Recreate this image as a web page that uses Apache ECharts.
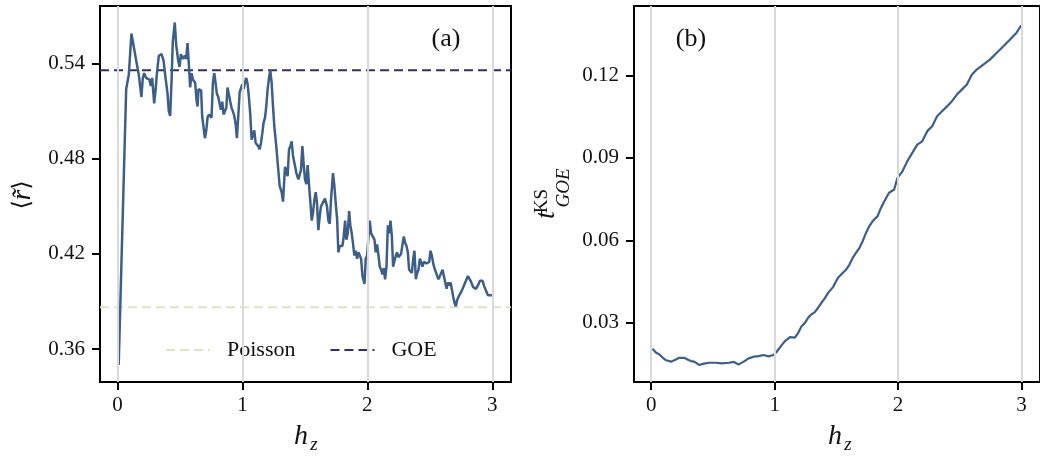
<!DOCTYPE html>
<html>
<head>
<meta charset="utf-8">
<script src="https://cdn.jsdelivr.net/npm/echarts@6/dist/echarts.min.js"></script>
<style>
html,body{margin:0;padding:0;background:#fff;overflow:hidden;}
#chart{width:1040px;height:457px;}
</style>
</head>
<body>
<div id="chart"></div>
<script>
// ---------- data ----------
const hzA = [0.010,0.070,0.091,0.112,0.128,0.150,0.171,0.192,0.203,0.214,0.230,0.246,0.256,0.267,0.278,0.294,0.305,0.315,0.331,0.353,0.369,0.385,0.401,0.411,0.422,0.433,0.443,0.459,0.470,0.486,0.497,0.508,0.524,0.540,0.550,0.561,0.572,0.582,0.593,0.604,0.622,0.633,0.641,0.649,0.670,0.678,0.689,0.700,0.711,0.721,0.732,0.743,0.753,0.764,0.775,0.785,0.796,0.807,0.817,0.828,0.839,0.849,0.860,0.871,0.881,0.892,0.903,0.914,0.924,0.935,0.946,0.956,0.967,0.978,0.988,0.999,1.010,1.020,1.031,1.042,1.052,1.063,1.074,1.084,1.095,1.106,1.117,1.127,1.138,1.149,1.159,1.170,1.181,1.191,1.202,1.213,1.223,1.234,1.245,1.255,1.271,1.287,1.298,1.314,1.325,1.341,1.352,1.362,1.373,1.384,1.394,1.405,1.421,1.432,1.448,1.458,1.469,1.480,1.490,1.501,1.512,1.522,1.533,1.544,1.555,1.565,1.576,1.587,1.597,1.608,1.619,1.629,1.645,1.661,1.677,1.688,1.699,1.709,1.725,1.736,1.747,1.758,1.768,1.779,1.790,1.800,1.811,1.822,1.832,1.843,1.854,1.864,1.875,1.886,1.896,1.907,1.918,1.928,1.939,1.950,1.961,1.977,1.987,1.998,2.009,2.019,2.030,2.041,2.057,2.067,2.078,2.089,2.099,2.110,2.121,2.131,2.142,2.153,2.164,2.174,2.185,2.196,2.206,2.217,2.228,2.238,2.249,2.260,2.270,2.281,2.292,2.302,2.313,2.324,2.334,2.345,2.356,2.367,2.377,2.388,2.399,2.409,2.420,2.431,2.441,2.452,2.463,2.473,2.484,2.495,2.505,2.516,2.527,2.537,2.548,2.559,2.569,2.580,2.591,2.602,2.612,2.623,2.634,2.644,2.655,2.666,2.676,2.687,2.698,2.708,2.719,2.730,2.740,2.751,2.762,2.772,2.783,2.794,2.805,2.815,2.826,2.837,2.847,2.858,2.869,2.879,2.890,2.901,2.911,2.922,2.933,2.943,2.954,2.965,2.975,2.986,2.997];
const rMean = [0.350,0.524,0.533,0.559,0.552,0.542,0.533,0.519,0.531,0.534,0.531,0.532,0.530,0.526,0.531,0.515,0.523,0.533,0.545,0.546,0.542,0.531,0.521,0.510,0.507,0.529,0.554,0.566,0.552,0.542,0.538,0.546,0.543,0.545,0.543,0.553,0.539,0.525,0.534,0.530,0.528,0.517,0.513,0.524,0.523,0.507,0.500,0.493,0.498,0.506,0.508,0.507,0.506,0.528,0.534,0.528,0.521,0.519,0.515,0.511,0.516,0.508,0.510,0.512,0.525,0.524,0.516,0.512,0.510,0.507,0.502,0.493,0.507,0.522,0.523,0.527,0.524,0.528,0.531,0.527,0.519,0.508,0.492,0.491,0.498,0.490,0.489,0.488,0.486,0.490,0.496,0.503,0.506,0.513,0.524,0.531,0.536,0.528,0.513,0.501,0.488,0.488,0.463,0.459,0.453,0.475,0.476,0.469,0.486,0.488,0.491,0.482,0.483,0.471,0.467,0.466,0.473,0.488,0.477,0.467,0.464,0.476,0.464,0.463,0.441,0.446,0.454,0.459,0.452,0.435,0.444,0.450,0.451,0.455,0.450,0.441,0.439,0.454,0.471,0.463,0.452,0.442,0.421,0.425,0.426,0.425,0.431,0.441,0.429,0.433,0.447,0.438,0.433,0.426,0.419,0.422,0.417,0.421,0.422,0.417,0.406,0.401,0.417,0.419,0.431,0.441,0.433,0.432,0.429,0.421,0.426,0.419,0.412,0.410,0.407,0.411,0.404,0.412,0.438,0.433,0.441,0.431,0.412,0.413,0.419,0.421,0.418,0.418,0.420,0.426,0.431,0.427,0.425,0.421,0.410,0.411,0.408,0.417,0.422,0.404,0.408,0.410,0.417,0.418,0.412,0.415,0.414,0.414,0.415,0.415,0.422,0.419,0.414,0.411,0.411,0.406,0.404,0.404,0.408,0.410,0.410,0.402,0.398,0.402,0.400,0.402,0.401,0.393,0.389,0.387,0.391,0.393,0.392,0.396,0.398,0.399,0.402,0.404,0.406,0.405,0.403,0.401,0.399,0.398,0.398,0.399,0.401,0.403,0.404,0.403,0.400,0.398,0.396,0.394,0.394,0.394,0.394];

const hzB = [0.010,0.040,0.067,0.094,0.121,0.160,0.200,0.227,0.267,0.294,0.321,0.348,0.388,0.428,0.468,0.522,0.575,0.629,0.669,0.709,0.749,0.789,0.830,0.870,0.910,0.950,0.990,1.017,1.057,1.084,1.124,1.164,1.191,1.218,1.245,1.272,1.298,1.325,1.352,1.379,1.406,1.433,1.473,1.513,1.553,1.580,1.606,1.633,1.660,1.687,1.713,1.740,1.767,1.794,1.834,1.861,1.888,1.927,1.968,1.995,2.035,2.075,2.115,2.155,2.195,2.236,2.276,2.316,2.356,2.396,2.436,2.476,2.516,2.556,2.597,2.637,2.690,2.744,2.797,2.851,2.905,2.958,2.998];
const tKS = [0.0206,0.0191,0.0185,0.0173,0.0164,0.0159,0.0167,0.0173,0.0173,0.0167,0.0161,0.0159,0.0147,0.0152,0.0155,0.0155,0.0153,0.0155,0.0158,0.0149,0.0159,0.0171,0.0177,0.0179,0.0183,0.0178,0.0183,0.0195,0.0219,0.0234,0.0248,0.0246,0.0264,0.0288,0.0300,0.0319,0.0331,0.0339,0.0355,0.0373,0.0389,0.0409,0.0430,0.0464,0.0482,0.0494,0.0512,0.0537,0.0555,0.0573,0.0597,0.0627,0.0652,0.0670,0.0688,0.0718,0.0742,0.0773,0.0785,0.0827,0.0851,0.0888,0.0918,0.0948,0.0960,0.0997,0.1015,0.1051,0.1069,0.1087,0.1106,0.1130,0.1148,0.1166,0.1202,0.1221,0.1239,0.1257,0.1281,0.1305,0.1329,0.1354,0.1382];

const poissonLevel = 0.3863;
const goeLevel = 0.5359;

const xTicks = [0, 1, 2, 3];
const yTicksA = [0.36, 0.42, 0.48, 0.54];
const yTicksB = [0.03, 0.06, 0.09, 0.12];
const xRange = [-0.1395, 3.1495];
const yRangeA = [0.3392, 0.5764];
const yRangeB = [0.0085, 0.1452];

// ---------- styling ----------
const FONT = '"Liberation Serif", "DejaVu Serif", serif';
const LINE = '#3d5e86';
const POIS = '#dfe2c6';
const GOEC = '#33305e';

function xAxisCfg(gi) {
  return {
    type: 'value', gridIndex: gi, min: xRange[0], max: xRange[1],
    axisLine: { show: true, onZero: false, lineStyle: { color: '#000', width: 2 } },
    axisTick: { show: true, length: 8, customValues: xTicks, lineStyle: { color: '#000', width: 2 } },
    axisLabel: { customValues: xTicks, margin: 13, fontFamily: FONT, fontSize: 21, color: '#111',
                 formatter: v => String(Math.round(v)) },
    splitLine: { show: false }
  };
}
function yAxisCfg(gi, rng, ticks) {
  return {
    type: 'value', gridIndex: gi, min: rng[0], max: rng[1],
    axisLine: { show: true, onZero: false, lineStyle: { color: '#000', width: 2 } },
    axisTick: { show: true, length: 8, customValues: ticks, lineStyle: { color: '#000', width: 2 } },
    axisLabel: { customValues: ticks, margin: 15, fontFamily: FONT, fontSize: 21, color: '#111',
                 formatter: v => v.toFixed(2) },
    splitLine: { show: false }
  };
}
function gridLines(gi) {
  return {
    type: 'line', name: 'grid' + gi, xAxisIndex: gi, yAxisIndex: gi, data: [], z: 1, silent: true,
    markLine: {
      silent: true, symbol: ['none', 'none'], animation: false,
      label: { show: false },
      lineStyle: { color: '#d9d9d9', width: 2, type: 'solid' },
      data: xTicks.map(v => ({ xAxis: v }))
    }
  };
}
const txt = (x, y, text, size, extra) => ({
  type: 'text', x, y, ...(extra && extra.rotation ? { rotation: extra.rotation } : {}),
  style: Object.assign({ text, fontFamily: FONT, fontSize: size, fill: '#111',
    align: 'center', verticalAlign: 'middle', textAlign: 'center', textVerticalAlign: 'middle' },
    extra && extra.style ? extra.style : {})
});

const option = {
  backgroundColor: '#fff',
  animation: false,
  grid: [
    { left: 100, top: 6, width: 411, height: 376, show: true, borderColor: '#000', borderWidth: 2, backgroundColor: 'transparent' },
    { left: 634, top: 6, width: 410, height: 376, show: true, borderColor: '#000', borderWidth: 2, backgroundColor: 'transparent' }
  ],
  xAxis: [xAxisCfg(0), xAxisCfg(1)],
  yAxis: [yAxisCfg(0, yRangeA, yTicksA), yAxisCfg(1, yRangeB, yTicksB)],
  legend: {
    data: ['Poisson', 'GOE'], left: 160, top: 334, itemWidth: 44, itemHeight: 14, itemGap: 34,
    itemStyle: { opacity: 0, borderWidth: 0 },
    textStyle: { fontFamily: FONT, fontSize: 22, color: '#111', padding: [0, 0, 0, 12] }
  },
  series: [
    gridLines(0), gridLines(1),
    { type: 'line', name: 'Poisson', xAxisIndex: 0, yAxisIndex: 0, z: 2, symbol: 'none', showSymbol: false,
      data: [[xRange[0], poissonLevel], [xRange[1], poissonLevel]],
      lineStyle: { color: POIS, width: 2, type: [9, 5] }, itemStyle: { color: POIS } },
    { type: 'line', name: 'GOE', xAxisIndex: 0, yAxisIndex: 0, z: 2, symbol: 'none', showSymbol: false,
      data: [[xRange[0], goeLevel], [xRange[1], goeLevel]],
      lineStyle: { color: GOEC, width: 2, type: [9, 5] }, itemStyle: { color: GOEC } },
    { type: 'line', name: 'rmean', xAxisIndex: 0, yAxisIndex: 0, z: 3, symbol: 'none', showSymbol: false,
      data: hzA.map((x, i) => [x, rMean[i]]),
      lineStyle: { color: LINE, width: 2.5 }, itemStyle: { color: LINE } },
    { type: 'line', name: 'tks', xAxisIndex: 1, yAxisIndex: 1, z: 3, symbol: 'none', showSymbol: false,
      data: hzB.map((x, i) => [x, tKS[i]]),
      lineStyle: { color: LINE, width: 2.2 }, itemStyle: { color: LINE } }
  ],
  graphic: [
    txt(446, 39, '(a)', 26),
    txt(691, 39, '(b)', 26),
    // x axis names
    txt(301, 437, 'h', 28, { style: { fontStyle: 'italic' } }),
    txt(314, 445, 'z', 19, { style: { fontStyle: 'italic' } }),
    txt(835, 437, 'h', 28, { style: { fontStyle: 'italic' } }),
    txt(848, 445, 'z', 19, { style: { fontStyle: 'italic' } }),
    // y axis name (a)
    txt(23, 195, '{a|⟨}{b|r\u0303}{a|⟩}', 26, { rotation: Math.PI / 2, style: {
      rich: { a: { fontFamily: '"DejaVu Serif", serif', fontSize: 24, fill: '#111' },
              b: { fontFamily: FONT, fontStyle: 'italic', fontSize: 27, fill: '#111' } } } }),
    // y axis name (b)
    txt(547, 215, 't', 28, { rotation: Math.PI / 2, style: { fontStyle: 'italic' } }),
    txt(542, 201, 'KS', 19, { rotation: Math.PI / 2 }),
    txt(564, 188, 'GOE', 19, { rotation: Math.PI / 2, style: { fontStyle: 'italic' } })
  ]
};

const chart = echarts.init(document.getElementById('chart'), null, { renderer: 'canvas' });
chart.setOption(option);
</script>
</body>
</html>
